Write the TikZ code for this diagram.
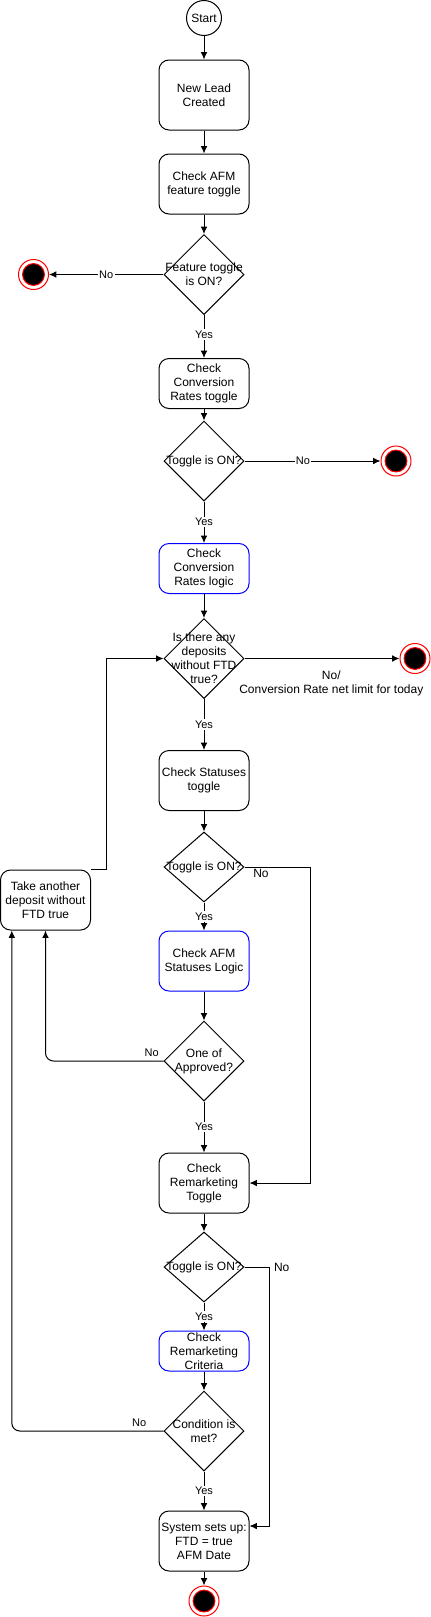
\documentclass[tikz,border=0pt]{standalone}
\usepackage{fontspec}
\setmainfont{Liberation Sans}
\usepackage{tikz}
\usetikzlibrary{shapes.geometric, arrows.meta}
\definecolor{logicblue}{RGB}{0,0,255}
\tikzset{
	act/.style={draw, rounded corners=7.5pt, minimum width=67.5pt, inner sep=0pt, align=center, font=\fontsize{9}{10.5}\selectfont},
	actb/.style={act, draw=logicblue},
	decide/.style={diamond, draw, minimum width=60pt, minimum height=60pt, inner sep=0pt},
	dtxt/.style={align=center, inner sep=0pt, font=\fontsize{9}{10.5}\selectfont},
	fin/.style={circle, draw=red, fill=white, minimum size=22.5pt, inner sep=0pt, path picture={\filldraw[fill=black, draw=red](path picture bounding box.center)circle(8.2pt);}},
	flow/.style={draw, -{Latex[length=5.5pt, width=5pt]}},
	lbl/.style={fill=white, inner sep=1pt, font=\fontsize{8.25}{9.5}\selectfont},
	lblb/.style={inner sep=1pt, font=\fontsize{9}{10.5}\selectfont}
}
\begin{document}
\begin{tikzpicture}[x=.75pt, y=-.75pt, line width=.75pt]
		\useasboundingbox (0,0) rectangle (431,1617);
		\node[circle, draw, minimum size=26.25pt, inner sep=0pt, font=\fontsize{9}{10.5}\selectfont] (start) at (204,18) {Start};
		\node[act, minimum height=52.5pt] (lead) at (204,95) {New Lead\\Created};
		\node[act, minimum height=45pt] (afm) at (204,184) {Check AFM\\feature toggle};
		\node[decide, label={[dtxt]center:Feature toggle\\is ON?}] (q1) at (204,274.5) {};
		\node[fin] (end1) at (33.5,274.5) {};
		\node[act, minimum height=37.5pt] (crt) at (204,383.5) {Check\\Conversion\\Rates toggle};
		\node[decide, label={[dtxt]center:Toggle is ON?}] (q2) at (204,461) {};
		\node[fin] (end2) at (396,461) {};
		\node[actb, minimum height=37.5pt] (crl) at (204,568.5) {Check\\Conversion\\Rates logic};
		\node[decide, label={[dtxt]center:Is there any\\deposits\\without FTD\\true?}] (q3) at (204,658.5) {};
		\node[fin] (end3) at (415,658.5) {};
		\node[act, minimum height=45pt] (st) at (204,780.5) {Check Statuses\\toggle};
		\node[decide, minimum height=52.5pt, label={[dtxt]center:Toggle is ON?}] (q4) at (204,867) {};
		\node[actb, minimum height=45pt] (sl) at (204,961) {Check AFM\\Statuses Logic};
		\node[act, minimum height=45pt] (take) at (45.5,900) {Take another\\deposit without\\FTD true};
		\node[decide, label={[dtxt]center:One of\\Approved?}] (q5) at (204,1061) {};
		\node[act, minimum height=45pt] (rt) at (204,1183) {Check\\Remarketing\\Toggle};
		\node[decide, minimum height=52.5pt, label={[dtxt]center:Toggle is ON?}] (q6) at (204,1267) {};
		\node[actb, minimum height=30pt] (rc) at (204,1351) {Check\\Remarketing\\Criteria};
		\node[decide, label={[dtxt]center:Condition is\\met?}] (q7) at (204,1431) {};
		\node[act, minimum height=45pt] (sys) at (204,1541) {System sets up:\\FTD = true\\AFM Date};
		\node[fin] (end4) at (204,1601) {};
		\draw[flow] (start) -- (lead);
		\draw[flow] (lead) -- (afm);
		\draw[flow] (afm) -- (q1);
		\draw[flow] (q1) -- node[lbl]{No} (end1);
		\draw[flow] (q1) -- node[lbl, pos=.45]{Yes} (crt);
		\draw[flow] (crt) -- (q2);
		\draw[flow] (q2) -- node[lbl, pos=.43]{No} (end2);
		\draw[flow] (q2) -- node[lbl]{Yes} (crl);
		\draw[flow] (crl) -- (q3);
		\draw[flow] (q3) -- node[pos=.56, below=9pt, align=center, inner sep=0pt, font=\fontsize{9}{10.5}\selectfont]{No/\\Conversion Rate net limit for today} (end3);
		\draw[flow] (q3) -- node[lbl]{Yes} (st);
		\draw[flow] (st) -- (q4);
		\draw[flow] (q4) -- node[lbl]{Yes} (sl);
		\draw[flow] (q4.east) -- node[lblb, pos=.25, below]{No} ++(66,0) |- (rt.east);
		\draw[flow] (sl) -- (q5);
		\draw[flow, rounded corners=6pt] (q5.west) -| node[lbl, fill=none, pos=.05, above=2pt]{No} (take.south);
		\draw[flow] (take.north east) -- ++(15,0) |- (q3.west);
		\draw[flow] (q5) -- node[lbl]{Yes} (rt);
		\draw[flow] (rt) -- (q6);
		\draw[flow] (q6.east) -- ++(25,0) node[lblb, right=2pt]{No} |- ([yshift=11.25pt]sys.east);
		\draw[flow] (q6) -- node[lbl]{Yes} (rc);
		\draw[flow] (rc) -- (q7);
		\draw[flow, rounded corners=6pt] (q7.west) -| node[lbl, fill=none, pos=.08, above=2pt]{No} ([xshift=8.85pt]take.south west);
		\draw[flow] (q7) -- node[lbl]{Yes} (sys);
		\draw[flow] (sys) -- (end4);
	\end{tikzpicture}
\end{document}
